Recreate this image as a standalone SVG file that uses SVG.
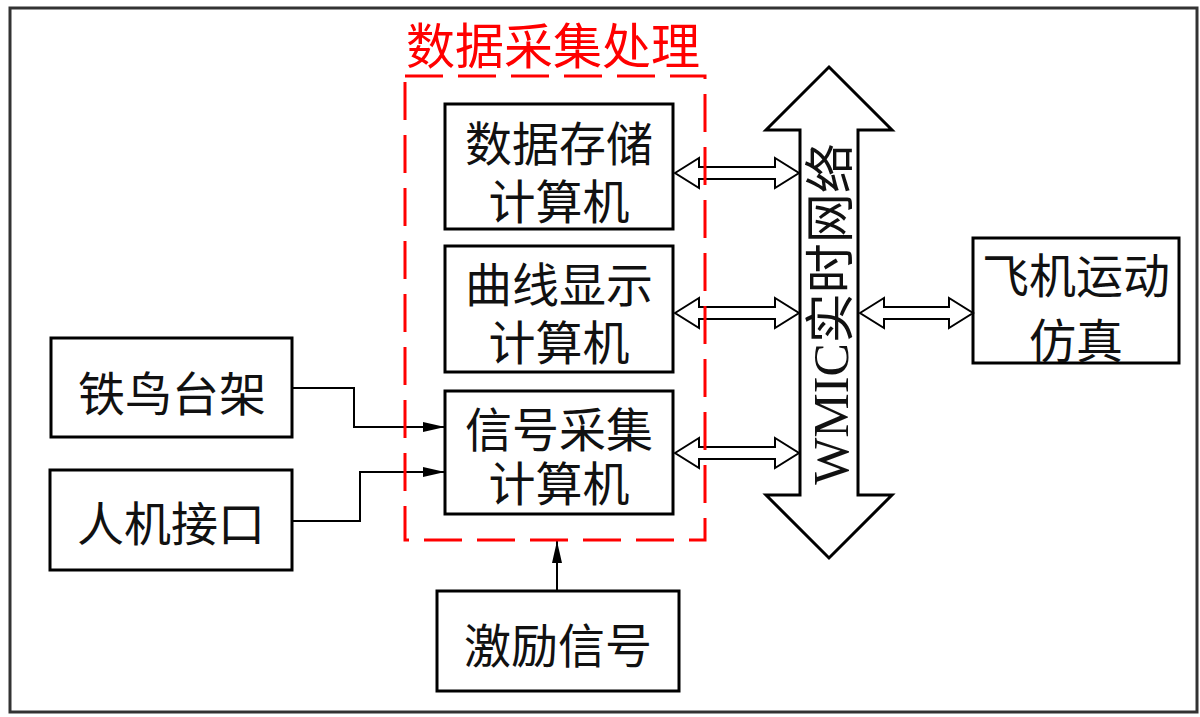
<svg xmlns="http://www.w3.org/2000/svg" width="1200" height="717" viewBox="0 0 1200 717">
<style>
.box{fill:#fff;stroke:#000;stroke-width:3}
.t{font-family:"Noto Sans CJK SC",sans-serif;font-size:47px;fill:#111;text-anchor:middle;dominant-baseline:central}
.ha{fill:#fff;stroke:#000;stroke-width:2;stroke-linejoin:miter}
.ln{fill:none;stroke:#000;stroke-width:2}
</style>
<defs>
<marker id="ah" markerWidth="24" markerHeight="12" refX="22" refY="6" orient="auto" markerUnits="userSpaceOnUse">
<path d="M0,1 L22,6 L0,11 Z" fill="#000"/>
</marker>
</defs>
<rect x="0" y="0" width="1200" height="717" fill="#fff"/>
<rect id="frame" x="10" y="8" width="1187" height="704" fill="none" stroke="#333" stroke-width="3"/>

<g id="group-dcp">
<text x="553" y="42" font-family="'Noto Sans CJK SC',sans-serif" font-size="49" fill="#f00" text-anchor="middle" dominant-baseline="central">数据采集处理</text>
</g>

<g id="n-storage"><rect class="box" x="445" y="104" width="228" height="125"/><text class="t" x="559" y="140">数据存储<tspan x="559" dy="58">计算机</tspan></text></g>
<g id="n-curve"><rect class="box" x="445" y="246" width="228" height="126"/><text class="t" x="559" y="281">曲线显示<tspan x="559" dy="58">计算机</tspan></text></g>
<g id="n-signal"><rect class="box" x="445" y="391" width="228" height="123"/><text class="t" x="559" y="426">信号采集<tspan x="559" dy="54">计算机</tspan></text></g>
<g id="n-ironbird"><rect class="box" x="51" y="338" width="241" height="99"/><text class="t" x="172" y="390">铁鸟台架</text></g>
<g id="n-hmi"><rect class="box" x="50" y="470" width="242" height="100"/><text class="t" x="171" y="520">人机接口</text></g>
<g id="n-excite"><rect class="box" x="437" y="591" width="242" height="100"/><text class="t" x="558" y="642">激励信号</text></g>
<g id="n-flight"><rect class="box" x="973" y="238" width="206" height="125"/><text class="t" x="1076" y="272">飞机运动<tspan x="1076" dy="65">仿真</tspan></text></g>

<g id="n-wmic">
<path d="M829,67 L892,130 L858,130 L858,495 L892,495 L829,558 L766,495 L800,495 L800,130 L766,130 Z" fill="#fff" stroke="#000" stroke-width="3"/>
<text transform="translate(831,314) rotate(-90)" font-family="'Liberation Serif','Noto Sans CJK SC',serif" font-size="50" fill="#111" text-anchor="middle" dominant-baseline="central">WMIC实时网络</text>
</g>

<g id="connectors">
<path class="ha" d="M675,173 L699,158 L699,167 L775,167 L775,158 L799,173 L775,188 L775,179 L699,179 L699,188 Z"/>
<path class="ha" d="M675,313 L699,298 L699,307 L775,307 L775,298 L799,313 L775,328 L775,319 L699,319 L699,328 Z"/>
<path class="ha" d="M675,453 L699,438 L699,447 L775,447 L775,438 L799,453 L775,468 L775,459 L699,459 L699,468 Z"/>
<path class="ha" d="M860,313 L884,298 L884,307 L949,307 L949,298 L973,313 L949,328 L949,319 L884,319 L884,328 Z"/>
<path class="ln" d="M292,388 L354,388 L354,427 L445,427" marker-end="url(#ah)"/>
<path class="ln" d="M292,521 L360,521 L360,472 L445,472" marker-end="url(#ah)"/>
<path class="ln" d="M557,591 L557,541" marker-end="url(#ah)"/>
</g>

<rect id="dcp-boundary" x="405" y="76" width="300" height="464" fill="none" stroke="#f00" stroke-width="3" stroke-dasharray="38 15"/>
</svg>
